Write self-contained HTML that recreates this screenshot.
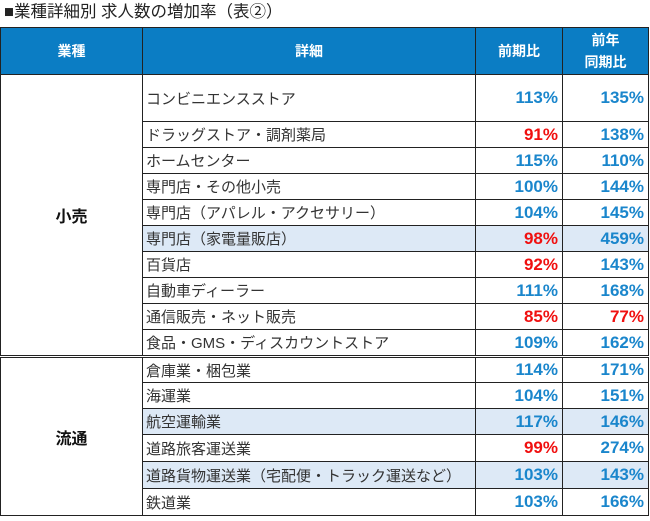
<!DOCTYPE html>
<html><head><meta charset="utf-8">
<style>
body{margin:0;width:650px;height:521px;background:#fff;font-family:"Liberation Sans","Noto Sans CJK JP",sans-serif;overflow:hidden;position:relative}
#title{position:absolute;left:4px;top:1px;font-size:16.5px;color:#222;line-height:22px}
table{position:absolute;left:0;top:27px;border-collapse:collapse;table-layout:fixed}
td,th{border:1px solid #222;padding:0 4px;font-size:15px;color:#333;white-space:nowrap;overflow:hidden}
th{background:#0b7dc4;color:#fff;font-weight:bold;text-align:center;height:46px;line-height:22px;font-size:14px}
td.d{text-align:left;padding-left:3px}
td.v{text-align:right;font-weight:bold;color:#1a86cc;font-size:17px;padding-right:4px}
td.r{color:#f01010}
td.g{text-align:center;font-weight:bold;color:#111;font-size:16px}
tr.h td.d,tr.h td.v{background:#dde9f6}
tr.s td{border-top:3px double #222}
</style></head><body>
<div id="title">■業種詳細別 求人数の増加率（表②）</div>
<table>
<colgroup><col style="width:142px"><col style="width:333px"><col style="width:87px"><col style="width:86px"></colgroup>
<tr style="height:47px"><th>業種</th><th>詳細</th><th>前期比</th><th>前年<br>同期比</th></tr>
<tr style="height:47px"><td class="g" rowspan="10">小売</td><td class="d" style="font-size:15px">コンビニエンスストア</td><td class="v">113%</td><td class="v">135%</td></tr>
<tr style="height:26px"><td class="d">ドラッグストア・調剤薬局</td><td class="v r">91%</td><td class="v">138%</td></tr>
<tr style="height:26px"><td class="d">ホームセンター</td><td class="v">115%</td><td class="v">110%</td></tr>
<tr style="height:26px"><td class="d">専門店・その他小売</td><td class="v">100%</td><td class="v">144%</td></tr>
<tr style="height:26px"><td class="d">専門店（アパレル・アクセサリー）</td><td class="v">104%</td><td class="v">145%</td></tr>
<tr class="h" style="height:26px"><td class="d">専門店（家電量販店）</td><td class="v r">98%</td><td class="v">459%</td></tr>
<tr style="height:26px"><td class="d">百貨店</td><td class="v r">92%</td><td class="v">143%</td></tr>
<tr style="height:26px"><td class="d">自動車ディーラー</td><td class="v">111%</td><td class="v">168%</td></tr>
<tr style="height:26px"><td class="d">通信販売・ネット販売</td><td class="v r">85%</td><td class="v r">77%</td></tr>
<tr style="height:27px"><td class="d">食品・GMS・ディスカウントストア</td><td class="v">109%</td><td class="v">162%</td></tr>
<tr class="s" style="height:26px"><td class="g" rowspan="6">流通</td><td class="d">倉庫業・梱包業</td><td class="v">114%</td><td class="v">171%</td></tr>
<tr style="height:26px"><td class="d">海運業</td><td class="v">104%</td><td class="v">151%</td></tr>
<tr class="h" style="height:26px"><td class="d">航空運輸業</td><td class="v">117%</td><td class="v">146%</td></tr>
<tr style="height:27px"><td class="d">道路旅客運送業</td><td class="v r">99%</td><td class="v">274%</td></tr>
<tr class="h" style="height:27px"><td class="d">道路貨物運送業（宅配便・トラック運送など）</td><td class="v">103%</td><td class="v">143%</td></tr>
<tr style="height:27px"><td class="d">鉄道業</td><td class="v">103%</td><td class="v">166%</td></tr>
</table>
</body></html>
